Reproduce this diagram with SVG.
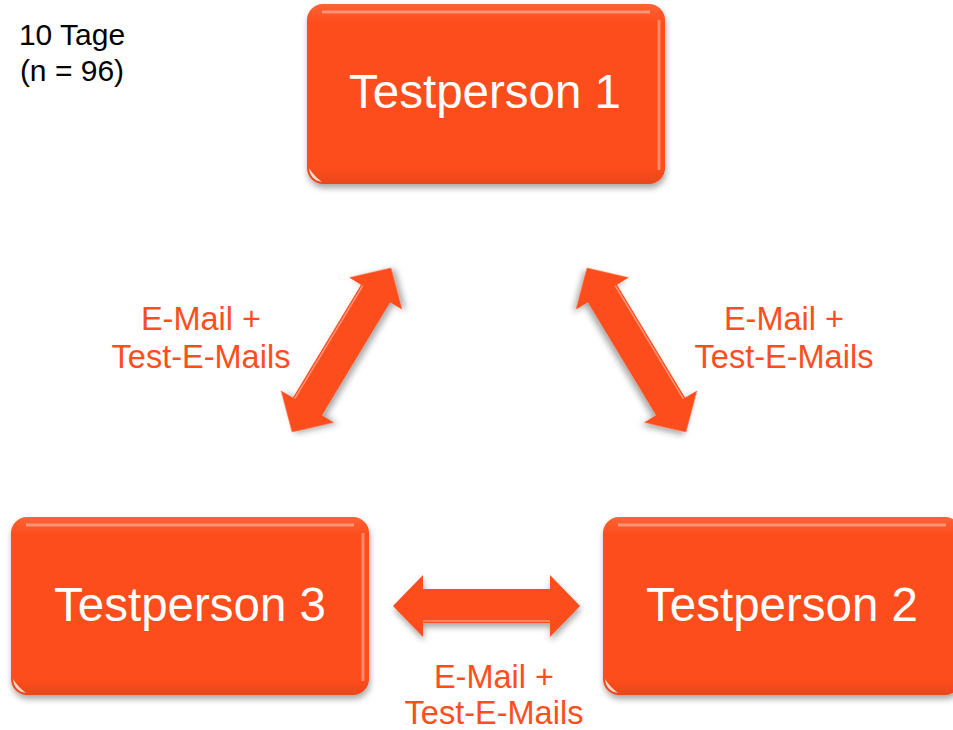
<svg xmlns="http://www.w3.org/2000/svg" width="953" height="730" viewBox="0 0 953 730">
<defs>
<style>
.box{fill:#FE4E1E;}
.gloss{fill:none;stroke:#FFFFFF;stroke-opacity:0.35;stroke-width:3;}
.btxt{font-family:"Liberation Sans",Arial,sans-serif;font-size:47.5px;fill:#FFFFFF;text-anchor:middle;}
.lbl{font-family:"Liberation Sans",Arial,sans-serif;font-size:32.5px;fill:#FE4E1E;text-anchor:middle;}
.note{font-family:"Liberation Sans",Arial,sans-serif;font-size:30px;fill:#000000;text-anchor:middle;}
.arr{fill:#FE4E1E;}
.arrhl{fill:none;stroke:#FFFFFF;stroke-opacity:0.4;stroke-width:1.5;}
</style>
<filter id="sh" x="-20%" y="-20%" width="140%" height="150%">
<feDropShadow dx="1" dy="4" stdDeviation="3" flood-color="#000000" flood-opacity="0.35"/>
</filter>
<linearGradient id="shade" x1="0" y1="0" x2="0" y2="1">
<stop offset="0" stop-color="#FFFFFF" stop-opacity="0.12"/>
<stop offset="0.1" stop-color="#FFFFFF" stop-opacity="0"/>
<stop offset="0.9" stop-color="#000000" stop-opacity="0"/>
<stop offset="1" stop-color="#000000" stop-opacity="0.08"/>
</linearGradient>
</defs>
<rect width="953" height="730" fill="#FFFFFF"/>

<g id="note">
<text class="note" x="72" y="45">10 Tage</text>
<text class="note" x="72" y="81">(n = 96)</text>
</g>

<g id="testperson1">
<rect class="box" x="307" y="4" width="358" height="180" rx="16" filter="url(#sh)"/>
<rect x="307" y="4" width="358" height="180" rx="16" fill="url(#shade)"/>
<path class="gloss" d="M322,12 H650"/>
<path class="gloss" d="M659,20 V170"/>
<path d="M309,168 Q310,180 322,182 Q314,176 309,168 Z" fill="#FFFFFF" fill-opacity="0.8"/>
<text class="btxt" x="485" y="108">Testperson 1</text>
</g>

<g id="testperson3">
<rect class="box" x="11" y="517" width="358" height="178" rx="16" filter="url(#sh)"/>
<rect x="11" y="517" width="358" height="178" rx="16" fill="url(#shade)"/>
<path class="gloss" d="M26,525 H354"/>
<path class="gloss" d="M363,533 V681"/>
<path d="M13,679 Q14,691 26,693 Q18,687 13,679 Z" fill="#FFFFFF" fill-opacity="0.8"/>
<text class="btxt" x="190" y="621">Testperson 3</text>
</g>

<g id="testperson2">
<rect class="box" x="603" y="517" width="358" height="178" rx="16" filter="url(#sh)"/>
<rect x="603" y="517" width="358" height="178" rx="16" fill="url(#shade)"/>
<path class="gloss" d="M618,525 H946"/>
<path d="M605,679 Q606,691 618,693 Q610,687 605,679 Z" fill="#FFFFFF" fill-opacity="0.8"/>
<text class="btxt" x="782" y="621">Testperson 2</text>
</g>

<g id="connectors">
<g transform="translate(341.5,350) rotate(-58.9)">
<path class="arr" filter="url(#sh)" d="M-96,0 L-66,-31 L-66,-17 L66,-17 L66,-31 L96,0 L66,31 L66,17 L-66,17 L-66,31 Z"/>
<path class="arrhl" d="M-66,-15 L66,-15"/>
</g>
<g transform="translate(636.5,350) rotate(58.9)">
<path class="arr" filter="url(#sh)" d="M-96,0 L-66,-31 L-66,-17 L66,-17 L66,-31 L96,0 L66,31 L66,17 L-66,17 L-66,31 Z"/>
<path class="arrhl" d="M-66,-15 L66,-15"/>
</g>
<g transform="translate(486.5,606)">
<path class="arr" filter="url(#sh)" d="M-93.5,0 L-63.5,-31 L-63.5,-17 L63.5,-17 L63.5,-31 L93.5,0 L63.5,31 L63.5,17 L-63.5,17 L-63.5,31 Z"/>
<path class="arrhl" d="M-63.5,15 L63.5,15"/>
</g>
</g>

<g id="labels">
<text class="lbl" x="201" y="330">E-Mail +</text>
<text class="lbl" x="201" y="368">Test-E-Mails</text>
<text class="lbl" x="784" y="330">E-Mail +</text>
<text class="lbl" x="784" y="368">Test-E-Mails</text>
<text class="lbl" x="494" y="688">E-Mail +</text>
<text class="lbl" x="494" y="724">Test-E-Mails</text>
</g>
</svg>
